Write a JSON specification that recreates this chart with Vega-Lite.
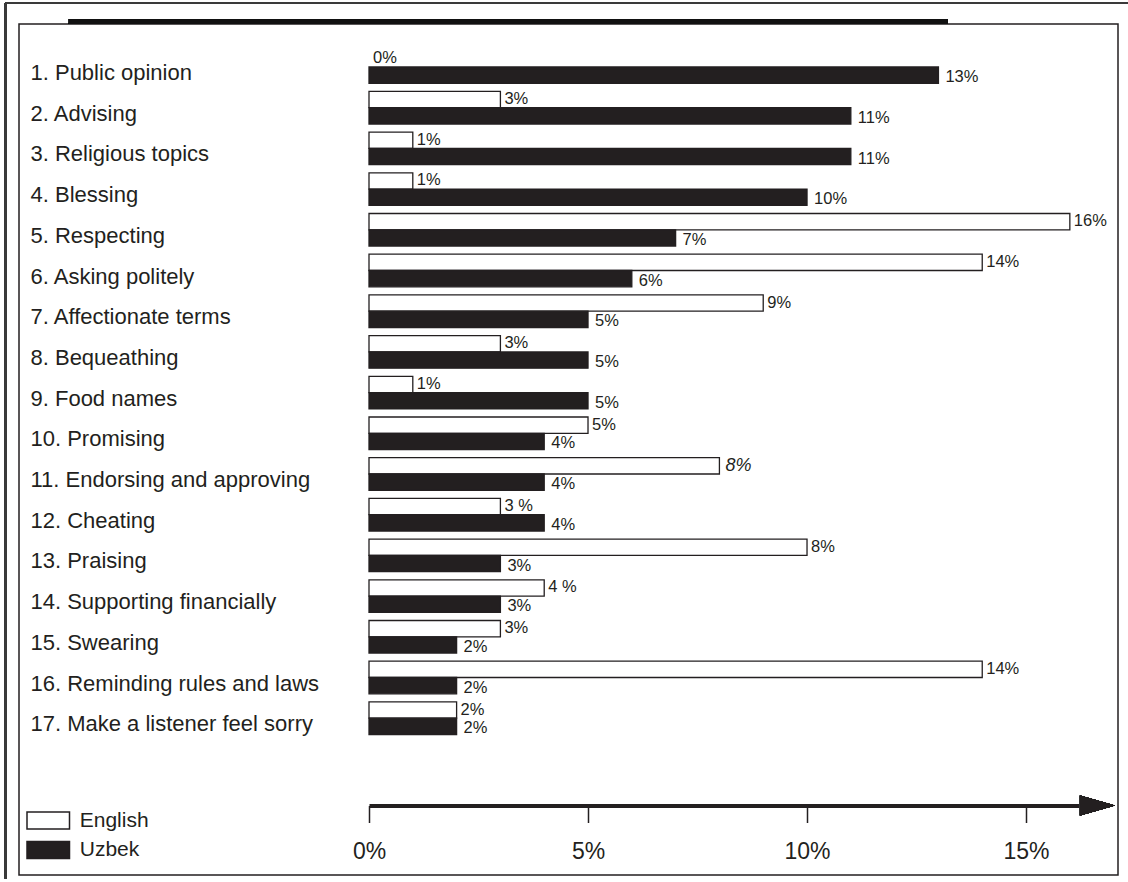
{
  "$schema": "https://vega.github.io/schema/vega-lite/v6.json",
  "autosize": "none",
  "width": 1099,
  "height": 851,
  "padding": {"left": 19, "top": 24, "right": 10, "bottom": 7},
  "background": "white",
  "config": {
    "font": "Liberation Sans",
    "view": {"stroke": "#231f20", "strokeWidth": 1.5}
  },
  "data": {
    "values": [
      {"category": "1. Public opinion", "series": "English", "value": 0, "label": "0%"},
      {"category": "1. Public opinion", "series": "Uzbek", "value": 13, "label": "13%"},
      {"category": "2. Advising", "series": "English", "value": 3, "label": "3%"},
      {"category": "2. Advising", "series": "Uzbek", "value": 11, "label": "11%"},
      {"category": "3. Religious topics", "series": "English", "value": 1, "label": "1%"},
      {"category": "3. Religious topics", "series": "Uzbek", "value": 11, "label": "11%"},
      {"category": "4. Blessing", "series": "English", "value": 1, "label": "1%"},
      {"category": "4. Blessing", "series": "Uzbek", "value": 10, "label": "10%"},
      {"category": "5. Respecting", "series": "English", "value": 16, "label": "16%"},
      {"category": "5. Respecting", "series": "Uzbek", "value": 7, "label": "7%"},
      {"category": "6. Asking politely", "series": "English", "value": 14, "label": "14%"},
      {"category": "6. Asking politely", "series": "Uzbek", "value": 6, "label": "6%"},
      {"category": "7. Affectionate terms", "series": "English", "value": 9, "label": "9%"},
      {"category": "7. Affectionate terms", "series": "Uzbek", "value": 5, "label": "5%"},
      {"category": "8. Bequeathing", "series": "English", "value": 3, "label": "3%"},
      {"category": "8. Bequeathing", "series": "Uzbek", "value": 5, "label": "5%"},
      {"category": "9. Food names", "series": "English", "value": 1, "label": "1%"},
      {"category": "9. Food names", "series": "Uzbek", "value": 5, "label": "5%"},
      {"category": "10. Promising", "series": "English", "value": 5, "label": "5%"},
      {"category": "10. Promising", "series": "Uzbek", "value": 4, "label": "4%"},
      {"category": "11. Endorsing  and approving", "series": "English", "value": 8, "label": "8%"},
      {"category": "11. Endorsing  and approving", "series": "Uzbek", "value": 4, "label": "4%"},
      {"category": "12. Cheating", "series": "English", "value": 3, "label": "3 %"},
      {"category": "12. Cheating", "series": "Uzbek", "value": 4, "label": "4%"},
      {"category": "13. Praising", "series": "English", "value": 10, "label": "8%"},
      {"category": "13. Praising", "series": "Uzbek", "value": 3, "label": "3%"},
      {"category": "14. Supporting financially", "series": "English", "value": 4, "label": "4 %"},
      {"category": "14. Supporting financially", "series": "Uzbek", "value": 3, "label": "3%"},
      {"category": "15. Swearing", "series": "English", "value": 3, "label": "3%"},
      {"category": "15. Swearing", "series": "Uzbek", "value": 2, "label": "2%"},
      {"category": "16. Reminding rules and laws", "series": "English", "value": 14, "label": "14%"},
      {"category": "16. Reminding rules and laws", "series": "Uzbek", "value": 2, "label": "2%"},
      {"category": "17. Make a listener feel  sorry", "series": "English", "value": 2, "label": "2%"},
      {"category": "17. Make a listener feel  sorry", "series": "Uzbek", "value": 2, "label": "2%"}
    ]
  },
  "layer": [
    {
      "encoding": {
        "y": {
          "field": "category", "type": "nominal", "sort": null, "title": null,
          "scale": {"range": [22.65, 714.55], "paddingInner": 0.2, "paddingOuter": 0.1},
          "axis": {
            "domain": false, "ticks": false, "tickSize": 0,
            "labelAlign": "left", "labelBaseline": "middle", "labelPadding": -11, "labelOffset": 6,
            "labelFontSize": 22, "labelColor": "#231f20", "labelLimit": 0
          }
        },
        "yOffset": {"field": "series", "type": "nominal", "sort": ["English", "Uzbek"], "scale": {"paddingInner": 0, "paddingOuter": 0}},
        "x": {
          "field": "value", "type": "quantitative", "title": null,
          "scale": {"domain": [0, 16.2], "range": [350, 1059.6], "nice": false, "zero": true},
          "axis": {
            "values": [0, 5, 10, 15], "labelExpr": "datum.value + '%'", "grid": false,
            "offset": -69.5, "domainWidth": 4, "domainColor": "#231f20",
            "tickSize": 17, "tickWidth": 1.5, "tickColor": "#231f20",
            "labelFontSize": 23, "labelColor": "#231f20", "labelPadding": 18,
            "labelFlush": false, "labelOverlap": false
          }
        }
      },
      "layer": [
        {
          "transform": [{"filter": "datum.value > 0"}],
          "mark": {"type": "bar", "stroke": "#231f20", "strokeWidth": 1.3},
          "encoding": {
            "fill": {
              "field": "series", "type": "nominal", "title": null,
              "scale": {"domain": ["English", "Uzbek"], "range": ["#ffffff", "#231f20"]},
              "legend": {
                "orient": "none", "legendX": 18.75, "legendY": 786, "padding": 0,
                "symbolType": "M-2.5,-1L2.5,-1L2.5,1L-2.5,1Z", "symbolSize": 289,
                "symbolStrokeColor": "#231f20", "symbolStrokeWidth": 1.5,
                "labelFontSize": 21, "labelColor": "#231f20", "labelOffset": 21,
                "rowPadding": 6.5
              }
            }
          }
        },
        {
          "transform": [{"filter": "datum.series == 'English' && datum.category != '11. Endorsing  and approving'"}],
          "mark": {"type": "text", "align": "left", "baseline": "middle", "dx": 4, "dy": -0.5, "fontSize": 16.5, "color": "#231f20"},
          "encoding": {"text": {"field": "label"}}
        },
        {
          "transform": [{"filter": "datum.series == 'English' && datum.category == '11. Endorsing  and approving'"}],
          "mark": {"type": "text", "align": "left", "baseline": "middle", "dx": 6, "dy": 0, "fontSize": 18, "fontStyle": "italic", "color": "#231f20"},
          "encoding": {"text": {"field": "label"}}
        },
        {
          "transform": [{"filter": "datum.series == 'Uzbek'"}],
          "mark": {"type": "text", "align": "left", "baseline": "middle", "dx": 7, "dy": 2, "fontSize": 16.5, "color": "#231f20"},
          "encoding": {"text": {"field": "label"}}
        }
      ]
    },
    {
      "layer": [
        {
          "mark": {"type": "rule", "strokeWidth": 5, "color": "#111111"},
          "encoding": {
            "x": {"datum": -6.85, "type": "quantitative"},
            "x2": {"datum": 13.2},
            "y": {"datum": 1.003, "type": "quantitative", "scale": {"domain": [0, 1]}, "axis": null}
          }
        },
        {
          "mark": {"type": "rule", "strokeWidth": 2, "color": "#3a3a3a"},
          "encoding": {
            "x": {"datum": -8.29, "type": "quantitative"},
            "x2": {"datum": 17.4},
            "y": {"datum": 1.0247, "type": "quantitative", "scale": {"domain": [0, 1]}, "axis": null}
          }
        },
        {
          "mark": {"type": "rule", "strokeWidth": 2, "color": "#3a3a3a"},
          "encoding": {
            "x": {"datum": -8.29, "type": "quantitative"},
            "y": {"datum": 1.0247, "type": "quantitative", "scale": {"domain": [0, 1]}, "axis": null},
            "y2": {"datum": -0.004}
          }
        },
        {
          "mark": {"type": "point", "shape": "M-1,-0.57L1,0L-1,0.57Z", "size": 1225, "filled": true, "color": "#231f20", "opacity": 1},
          "encoding": {
            "x": {"datum": 16.63, "type": "quantitative"},
            "y": {"datum": 0.0817, "type": "quantitative", "scale": {"domain": [0, 1]}, "axis": null}
          }
        }
      ]
    }
  ],
  "resolve": {"scale": {"y": "independent"}}
}
